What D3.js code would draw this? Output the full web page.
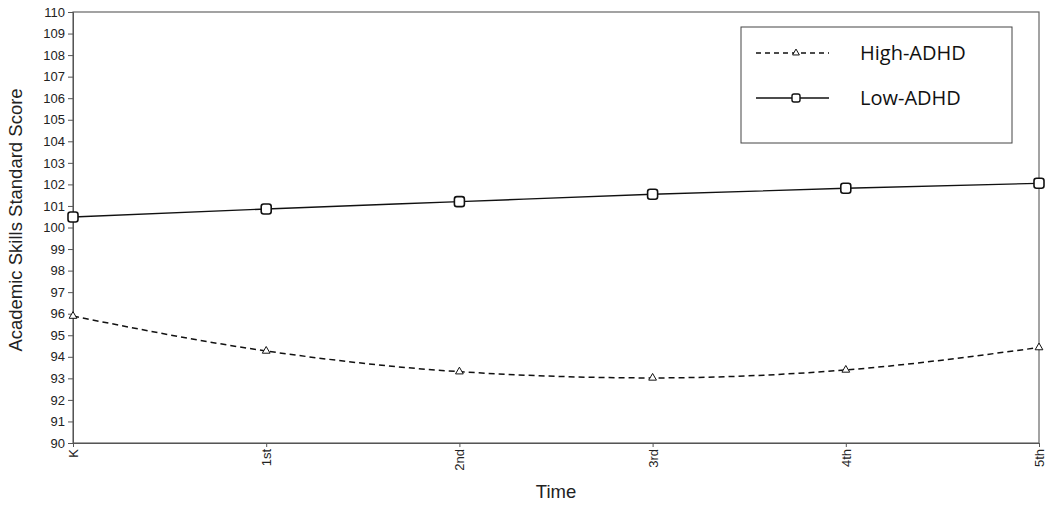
<!DOCTYPE html>
<html>
<head>
<meta charset="utf-8">
<script src="https://cdn.jsdelivr.net/npm/d3@7"></script>
<style>
  body { margin: 0; background: #fff; }
</style>
</head>
<body>
<div id="chart"></div>
<script>
// data
var grades = ["K", "1st", "2nd", "3rd", "4th", "5th"];
var highADHD = [95.89, 94.27, 93.31, 93.02, 93.39, 94.43];
var lowADHD = [100.49, 100.86, 101.2, 101.54, 101.82, 102.05];
var yTicks = d3.range(90, 111);

var margin = { top: 12, right: 11, bottom: 62, left: 73 };
var width = 1050 - margin.left - margin.right;
var height = 505 - margin.top - margin.bottom;

var svg = d3.select("#chart")
  .append("svg")
  .attr("width", 1050)
  .attr("height", 505)
  .append("g")
  .attr("transform", "translate(" + margin.left + "," + margin.top + ")");

var x = d3.scalePoint()
  .domain(grades)
  .range([0, width]);

var y = d3.scaleLinear()
  .domain([90, 110])
  .range([height, 0]);

// frame
svg.append("rect")
  .attr("width", width)
  .attr("height", height)
  .style("fill", "none")
  .style("stroke", "#666")
  .style("stroke-width", 1.2);

// Y axis
var yAxis = svg.append("g")
  .call(d3.axisLeft(y).tickValues(yTicks).tickSize(5).tickFormat(d3.format("d")));
yAxis.selectAll("text")
  .style("font-family", "'Liberation Sans', Arial, sans-serif")
  .style("font-size", "13px")
  .style("fill", "#222");
yAxis.selectAll("line, path").style("stroke", "#555");

// X axis
var xAxis = svg.append("g")
  .attr("transform", "translate(0," + height + ")")
  .call(d3.axisBottom(x).tickSize(4));
xAxis.selectAll("text")
  .attr("transform", "rotate(-90)")
  .attr("x", -6)
  .attr("y", 0)
  .attr("dy", "0.35em")
  .attr("text-anchor", "end")
  .style("font-family", "'Liberation Sans', Arial, sans-serif")
  .style("font-size", "13px")
  .style("fill", "#222");
xAxis.selectAll("line, path").style("stroke", "#555");

// axis titles
svg.append("text")
  .attr("transform", "rotate(-90)")
  .attr("x", -(220 - margin.top))
  .attr("y", -margin.left + 22)
  .attr("text-anchor", "middle")
  .style("font-family", "'Liberation Sans', Arial, sans-serif")
  .style("font-size", "18.5px")
  .style("fill", "#222")
  .text("Academic Skills Standard Score");

svg.append("text")
  .attr("x", width / 2)
  .attr("y", height + 55)
  .attr("text-anchor", "middle")
  .style("font-family", "'Liberation Sans', Arial, sans-serif")
  .style("font-size", "18.5px")
  .style("fill", "#222")
  .text("Time");

var line = d3.line()
  .x(function (d, i) { return x(grades[i]); })
  .y(function (d) { return y(d); })
  .curve(d3.curveMonotoneX);

// High-ADHD dashed line with triangles
svg.append("path")
  .datum(highADHD)
  .attr("d", line)
  .style("fill", "none")
  .style("stroke", "#111")
  .style("stroke-width", 1.5)
  .style("stroke-dasharray", "6,4");

var tri = d3.symbol().type(d3.symbolTriangle).size(26);
svg.append("g")
  .selectAll("path")
  .data(highADHD)
  .enter()
  .append("path")
  .attr("d", tri)
  .attr("transform", function (d, i) { return "translate(" + x(grades[i]) + "," + y(d) + ")"; })
  .style("fill", "#fff")
  .style("stroke", "#111")
  .style("stroke-width", 1);

// Low-ADHD solid line with squares
svg.append("path")
  .datum(lowADHD)
  .attr("d", line)
  .style("fill", "none")
  .style("stroke", "#111")
  .style("stroke-width", 1.4);

svg.append("g")
  .selectAll("rect")
  .data(lowADHD)
  .enter()
  .append("rect")
  .attr("x", function (d, i) { return x(grades[i]) - 5; })
  .attr("y", function (d) { return y(d) - 5; })
  .attr("width", 10)
  .attr("height", 10)
  .attr("rx", 2.5)
  .style("fill", "#fff")
  .style("stroke", "#111")
  .style("stroke-width", 1.6);

// legend
var legend = svg.append("g")
  .attr("transform", "translate(" + (741 - margin.left) + "," + (27 - margin.top) + ")");

legend.append("rect")
  .attr("width", 271)
  .attr("height", 116)
  .style("fill", "#fff")
  .style("stroke", "#444")
  .style("stroke-width", 1);

legend.append("line")
  .attr("x1", 15).attr("x2", 88)
  .attr("y1", 26).attr("y2", 26)
  .style("stroke", "#111")
  .style("stroke-width", 1.4)
  .style("stroke-dasharray", "5,4");
legend.append("path")
  .attr("d", d3.symbol().type(d3.symbolTriangle).size(20))
  .attr("transform", "translate(55,26)")
  .style("fill", "#fff")
  .style("stroke", "#111");

legend.append("line")
  .attr("x1", 15).attr("x2", 88)
  .attr("y1", 71).attr("y2", 71)
  .style("stroke", "#111")
  .style("stroke-width", 1.4);
legend.append("rect")
  .attr("x", 51).attr("y", 67)
  .attr("width", 8).attr("height", 8)
  .attr("rx", 2)
  .style("fill", "#fff")
  .style("stroke", "#111")
  .style("stroke-width", 1.4);

legend.selectAll("text.lbl")
  .data(["High-ADHD", "Low-ADHD"])
  .enter()
  .append("text")
  .attr("class", "lbl")
  .attr("x", 119)
  .attr("y", function (d, i) { return 26 + i * 45; })
  .attr("dy", "0.35em")
  .style("font-family", "'Open Sans', sans-serif")
  .style("font-size", "20px")
  .style("fill", "#111")
  .text(function (d) { return d; });
</script>
</body>
</html>
